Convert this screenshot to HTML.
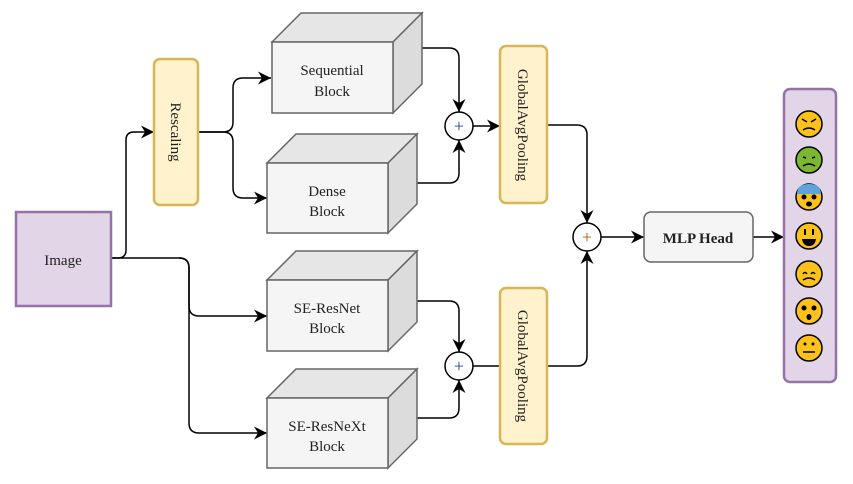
<!DOCTYPE html>
<html><head><meta charset="utf-8"><style>
body{margin:0;background:#fff;}
svg{display:block;}
text{font-family:"Liberation Serif",serif;fill:#222;}
</style></head><body>
<svg width="853" height="484" viewBox="0 0 853 484" xmlns="http://www.w3.org/2000/svg">
<defs>
<marker id="a" markerWidth="14" markerHeight="14" refX="13" refY="6.5" orient="auto" markerUnits="userSpaceOnUse">
<path d="M0,0 L13,6.5 L0,13 L4,6.5 z" fill="#000"/>
</marker>
</defs>
<g fill="none" stroke="#000" stroke-width="1.5">
<path d="M111,258 H118 Q126,258 126,250 V140 Q126,132 134,132 H154" marker-end="url(#a)"/>
<path d="M111,258 H179 Q189,258 189,268 V306 Q189,316 199,316 H267" marker-end="url(#a)"/>
<path d="M179,258 Q189,258 189,268 V423 Q189,433 199,433 H267" marker-end="url(#a)"/>
<path d="M198,132 H223 Q233,132 233,122 V88 Q233,78 243,78 H271" marker-end="url(#a)"/>
<path d="M198,132 H223 Q233,132 233,142 V188 Q233,198 243,198 H267" marker-end="url(#a)"/>
<path d="M422,48 H449 Q459,48 459,58 V112" marker-end="url(#a)"/>
<path d="M417,183 H449 Q459,183 459,173 V140" marker-end="url(#a)"/>
<path d="M473,126 H500" marker-end="url(#a)"/>
<path d="M417,301 H449 Q459,301 459,311 V352" marker-end="url(#a)"/>
<path d="M417,418 H449 Q459,418 459,408 V380" marker-end="url(#a)"/>
<path d="M473,366 H500"/>
<path d="M547,125 H577 Q587,125 587,135 V223" marker-end="url(#a)"/>
<path d="M547,366 H577 Q587,366 587,356 V251" marker-end="url(#a)"/>
<path d="M601,237 H644" marker-end="url(#a)"/>
<path d="M753,237 H784" marker-end="url(#a)"/>
</g>
<rect x="16" y="212" width="95" height="94" fill="#e1d5e7" stroke="#9673a6" stroke-width="2.5"/>
<text x="63" y="265" font-size="15" text-anchor="middle">Image</text>
<rect x="154" y="59" width="44" height="146" rx="6" fill="#fff2cc" stroke="#d6b656" stroke-width="2.5"/>
<text transform="translate(171,132) rotate(90)" font-size="15" text-anchor="middle">Rescaling</text>
<g stroke="#666" stroke-width="1.5">
<path d="M272,42 L301,13 H422 L393,42 Z" fill="#e6e6e6"/><path d="M393,42 L422,13 V84 L393,113 Z" fill="#dcdcdc"/><rect x="272" y="42" width="121" height="71" fill="#f5f5f5"/>
<path d="M267,163 L296,134 H417 L388,163 Z" fill="#e6e6e6"/><path d="M388,163 L417,134 V204 L388,233 Z" fill="#dcdcdc"/><rect x="267" y="163" width="121" height="70" fill="#f5f5f5"/>
<path d="M267,280 L296,251 H417 L388,280 Z" fill="#e6e6e6"/><path d="M388,280 L417,251 V322 L388,351 Z" fill="#dcdcdc"/><rect x="267" y="280" width="121" height="71" fill="#f5f5f5"/>
<path d="M267,398 L296,369 H417 L388,398 Z" fill="#e6e6e6"/><path d="M388,398 L417,369 V439 L388,468 Z" fill="#dcdcdc"/><rect x="267" y="398" width="121" height="70" fill="#f5f5f5"/>
</g>
<g font-size="15" text-anchor="middle">
<text x="332" y="75">Sequential</text><text x="332" y="96">Block</text>
<text x="327" y="196">Dense</text><text x="327" y="216">Block</text>
<text x="327" y="313">SE-ResNet</text><text x="327" y="333">Block</text>
<text x="327" y="431">SE-ResNeXt</text><text x="327" y="451">Block</text>
</g>
<rect x="500" y="46" width="47" height="157" rx="6" fill="#fff2cc" stroke="#d6b656" stroke-width="2.5"/>
<text transform="translate(518,125) rotate(90)" font-size="15" text-anchor="middle">GlobalAvgPooling</text>
<rect x="500" y="288" width="47" height="156" rx="6" fill="#fff2cc" stroke="#d6b656" stroke-width="2.5"/>
<text transform="translate(518,366) rotate(90)" font-size="15" text-anchor="middle">GlobalAvgPooling</text>
<g fill="#fff" stroke="#000" stroke-width="1.5">
<circle cx="459" cy="126" r="14"/><circle cx="459" cy="366" r="14"/><circle cx="587" cy="237" r="14"/>
</g>
<g font-size="18" text-anchor="middle">
<text x="459" y="132" style="fill:#1a4a8a">+</text>
<text x="459" y="372" style="fill:#1a4a8a">+</text>
<text x="587" y="243" style="fill:#b06000">+</text>
</g>
<rect x="644" y="212" width="109" height="50" rx="7" fill="#f5f5f5" stroke="#666" stroke-width="1.5"/>
<text x="698" y="243" font-size="15" font-weight="bold" text-anchor="middle">MLP Head</text>
<rect x="784" y="89" width="52" height="293" rx="6" fill="#e1d5e7" stroke="#9673a6" stroke-width="2.5"/>
<g stroke="#000" stroke-width="1.5">
<circle cx="809" cy="124" r="13" fill="#fcc21b"/>
<circle cx="809" cy="160" r="13" fill="#7cb82f"/>
<circle cx="809" cy="197" r="13" fill="#fcc21b"/>
<circle cx="809" cy="236" r="13" fill="#fcc21b"/>
<circle cx="809" cy="274" r="13" fill="#fcc21b"/>
<circle cx="809" cy="311" r="13" fill="#fcc21b"/>
<circle cx="809" cy="348" r="13" fill="#fcc21b"/>
</g>
<g stroke="#000" stroke-width="1.5" fill="none">
<path d="M802,119 L807,122 M816,119 L811,122 M803,130 Q809,126 815,130"/>
<path d="M803,157 L806,158 M815,157 L812,158 M803,166 Q809,162 815,166"/>
<path d="M803,274 Q805,271 807,274 M811,274 Q813,271 815,274 M803,280 Q809,276 815,280"/>
<path d="M803,352 H815"/>
</g>
<path d="M797,194 Q797,184 809,184 Q821,184 821,194 Z" fill="#5fa3dc"/>
<g fill="#000">
<circle cx="804" cy="197" r="2.5"/><circle cx="814" cy="197" r="2.5"/><ellipse cx="809" cy="204" rx="3" ry="2.5"/>
<rect x="804" y="229" width="2" height="6"/><rect x="812" y="229" width="2" height="6"/>
<path d="M802,239 H816 Q815,246 809,246 Q803,246 802,239 Z"/>
<circle cx="804" cy="308" r="2.5"/><circle cx="814" cy="308" r="2.5"/><ellipse cx="809" cy="317" rx="2.5" ry="3"/>
<circle cx="805" cy="344" r="1.5"/><circle cx="813" cy="344" r="1.5"/>
</g>
</svg>
</body></html>
